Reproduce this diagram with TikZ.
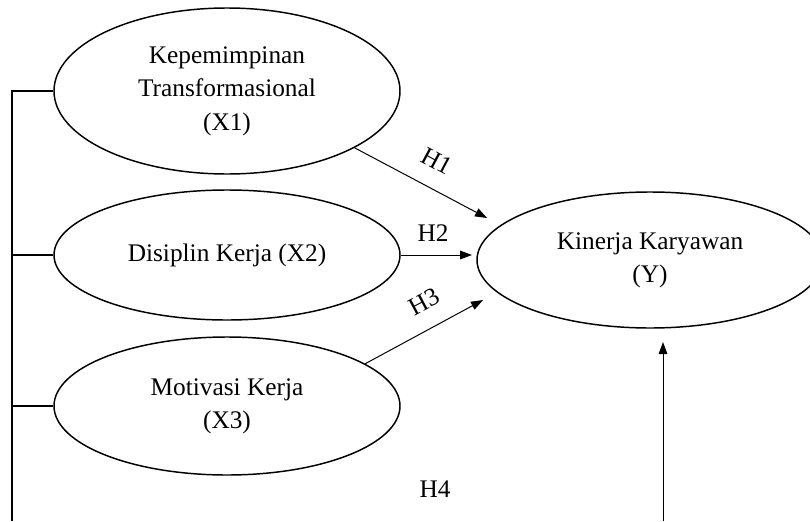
\documentclass[tikz,border=0pt]{standalone}
\usepackage{fontspec}
\setmainfont{Liberation Serif}
\usetikzlibrary{shapes.geometric}
\usetikzlibrary{arrows.meta}

\begin{document}
\begin{tikzpicture}[x=0.75pt, y=-0.75pt,
  var/.style={ellipse, draw, line width=1.1pt, minimum width=259.5pt, align=center,
    inner sep=1pt, font=\fontsize{19}{25}\selectfont},
  path/.style={line width=0.75pt, -{Triangle[length=9pt,width=6.5pt]}},
  lbl/.style={font=\fontsize{19}{25}\selectfont}]
\useasboundingbox (0,0) rectangle (810,521);
\node[var, minimum height=124.5pt] (X1) at (227,91) {Kepemimpinan\\Transformasional\\(X1)};
\node[var, minimum height=97.5pt] (X2) at (227,255) {Disiplin Kerja (X2)};
\node[var, minimum height=103.5pt] (X3) at (227,406) {Motivasi Kerja\\(X3)};
\node[var, minimum height=102pt] (Y) at (650,260) {Kinerja Karyawan\\(Y)};
% arrow tips stop short of Y
\coordinate (t1) at (487,218);
\coordinate (t2) at (472,255);
\coordinate (t3) at (483,300);
\coordinate (t4) at (663,342);
\coordinate (b4) at (663,521);
\coordinate (lb) at (12,521);
\draw[path] (X1.-24) -- (t1);
\draw[path] (X2.east) -- (t2);
\draw[path] (X3.17) -- (t3);
\draw[path] (b4) -- (t4);
\draw[line width=1.1pt] (lb) |- (X1.west);
\foreach \v in {X2,X3} {
 \draw[line width=1.1pt] (\v.west) -- (\v.west -| lb);
}
\node[lbl, rotate=-28] (h1) at (437,161) {H1};
\node[lbl] (h2) at (433,233) {H2};
\node[lbl, rotate=28] (h3) at (424,302) {H3};
\node[lbl] (h4) at (435,489) {H4};
\end{tikzpicture}
\end{document}
